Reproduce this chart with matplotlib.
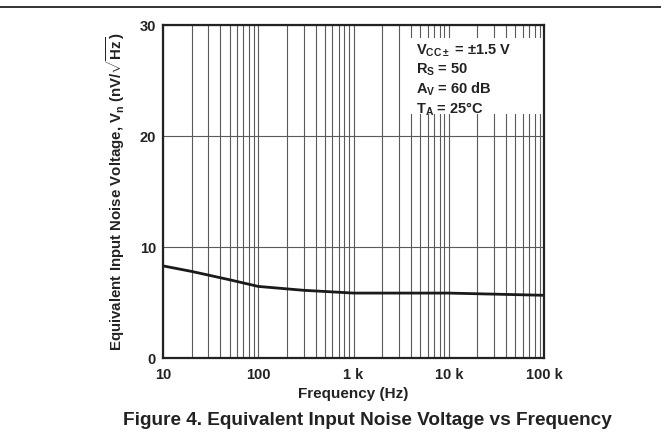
import numpy as np
import matplotlib
matplotlib.use('Agg')
import matplotlib.pyplot as plt
from matplotlib.ticker import FixedLocator, NullFormatter
from matplotlib.patches import Rectangle

plt.rcParams['font.family'] = ['Liberation Sans', 'DejaVu Sans']
plt.rcParams['font.weight'] = 'bold'
plt.rcParams['mathtext.fontset'] = 'custom'
plt.rcParams['mathtext.rm'] = 'Liberation Sans:bold'
plt.rcParams['mathtext.it'] = 'Liberation Sans:bold'
plt.rcParams['mathtext.bf'] = 'Liberation Sans:bold'

# curve
freq = [10, 20, 50, 100, 300, 1000, 10000, 100000]
noise = [8.3, 7.8, 7.05, 6.45, 6.1, 5.85, 5.85, 5.65]

xtick_vals = [10, 100, 1000, 10000, 100000]
xtick_labels = ['10', '100', '1 k', '10 k', '100 k']
ytick_vals = [0, 10, 20, 30]

fig = plt.figure(figsize=(6.61, 4.38), dpi=100)
ax = fig.add_axes([0.2466, 0.1826, 0.5764, 0.7603])

# horizontal rule at the top of the page
fig.add_artist(plt.Line2D([0, 1], [0.984, 0.984], color='#111111', lw=1.2))

ax.plot(freq, noise, color='#1a1a1a', lw=2.0, zorder=3)

ax.set_xscale('log')
ax.set_xlim(10, 100000)
ax.set_ylim(0, 30)

minors = [m * 10 ** e for e in range(1, 5) for m in range(2, 10)]
ax.xaxis.set_major_locator(FixedLocator(xtick_vals))
ax.xaxis.set_minor_locator(FixedLocator(minors))
ax.xaxis.set_minor_formatter(NullFormatter())
ax.set_xticks(xtick_vals)
ax.set_xticklabels(xtick_labels)
ax.set_yticks(ytick_vals)
ax.yaxis.set_minor_locator(FixedLocator([]))

ax.grid(True, which='both', axis='x', color='#5a5a5a', lw=0.8)
ax.grid(True, which='major', axis='y', color='#5a5a5a', lw=0.8)
ax.tick_params(which='both', length=0, labelsize=10.5)
ax.tick_params(axis='x', pad=7)
ax.tick_params(axis='y', pad=5)
for lab in ax.get_xticklabels() + ax.get_yticklabels():
    lab.set_fontweight('bold')
    lab.set_color('#222222')

for s in ax.spines.values():
    s.set_linewidth(1.6)
    s.set_color('#222222')
    s.set_zorder(6)

ax.set_xlabel('Frequency (Hz)', fontsize=11, fontweight='bold', color='#222222', labelpad=4)
ax.set_ylabel(r'Equivalent Input Noise Voltage, V$_{\rm n}$ (nV/$\sqrt{\rm Hz}$)',
              fontsize=10.8, fontweight='bold', color='#222222', labelpad=9)

# white box behind the conditions text
ax.add_patch(Rectangle((0.633, 0.732), 0.367, 0.229, transform=ax.transAxes,
                       facecolor='white', edgecolor='none', zorder=4))
ax.text(0.664, 0.948,
        'V$_{\\rm CC\\pm}$ = \u00b11.5 V\nR$_{\\rm S}$ = 50\nA$_{\\rm V}$ = 60 dB\nT$_{\\rm A}$ = 25\u00b0C',
        transform=ax.transAxes, va='top', ha='left', fontsize=10.5, fontweight='bold',
        color='#222222', linespacing=1.2, zorder=5)

fig.text(0.556, 0.039, 'Figure 4. Equivalent Input Noise Voltage vs Frequency',
         ha='center', va='center', fontsize=13.7, fontweight='bold', color='#222222')

fig.savefig('out.png', dpi=100)
